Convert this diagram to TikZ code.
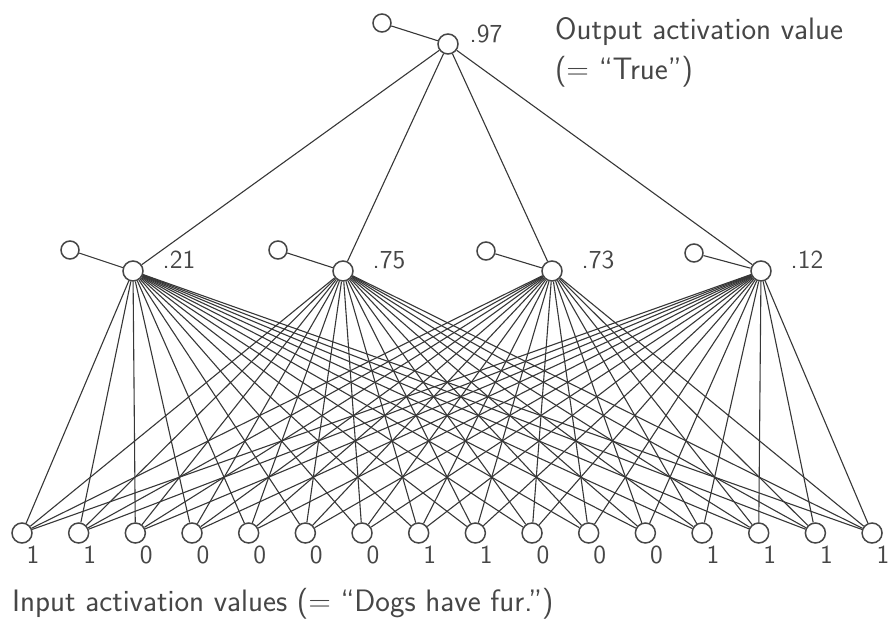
\documentclass[tikz,border=0pt]{standalone}
\usepackage{tikz}
\usetikzlibrary{positioning}
\definecolor{ink}{RGB}{70,70,70}
\definecolor{wire}{RGB}{55,55,55}
\tikzset{
  unit/.style={circle, draw=ink, fill=white, minimum size=10pt, inner sep=0pt,
    line width=0.75pt},
  biasunit/.style={circle, draw=ink, fill=white, minimum size=9pt, inner sep=0pt,
    line width=0.75pt},
  wire/.style={draw=wire, line width=0.55pt},
  val/.style={font=\sffamily\fontsize{13}{15}\selectfont, text=ink},
  caption/.style={font=\sffamily\fontsize{15.5}{20}\selectfont, text=ink, anchor=west,
    align=left},
}
\begin{document}
\begin{tikzpicture}[x=0.5pt,y=-0.5pt]
  \useasboundingbox (0,0) rectangle (888,631);
  \foreach \v [count=\i] in {1,1,0,0,0,0,0,1,1,0,0,0,1,1,1,1} {
    \node[unit] (in\i) at ({22+(\i-1)*56.67},533) {};
    \node[val] (v\i) at ({33+(\i-1)*56.67},555) {\v};
  }
  \foreach \x/\bx/\by/\l [count=\j] in {133/70/250/.21, 343/278/250/.75,
      552/486/251/.73, 761/694/253/.12} {
    \node[unit] (h\j) at (\x,271) {};
    \node[biasunit] (b\j) at (\bx,\by) {};
    \node[val] (l\j) at ({\x+46},260) {\l};
  }
  \node[unit] (out) at (448,44) {};
  \node[biasunit] (bo) at (382,23) {};
  \node[val] (lo) at (486,34) {.97};
  \foreach \j in {1,...,4} {
    \foreach \i in {1,...,16}
      \draw[wire] (h\j) -- (in\i);
    \draw[wire] (b\j) -- (h\j);
    \draw[wire] (out) -- (h\j);
  }
  \draw[wire] (bo) -- (out);
  \node[caption] (outtext) at (548,52) {Output activation value\\(= ``True'')};
  \node[caption] (intext) at (5,604) {Input activation values (= ``Dogs have fur.'')};
\end{tikzpicture}
\end{document}
